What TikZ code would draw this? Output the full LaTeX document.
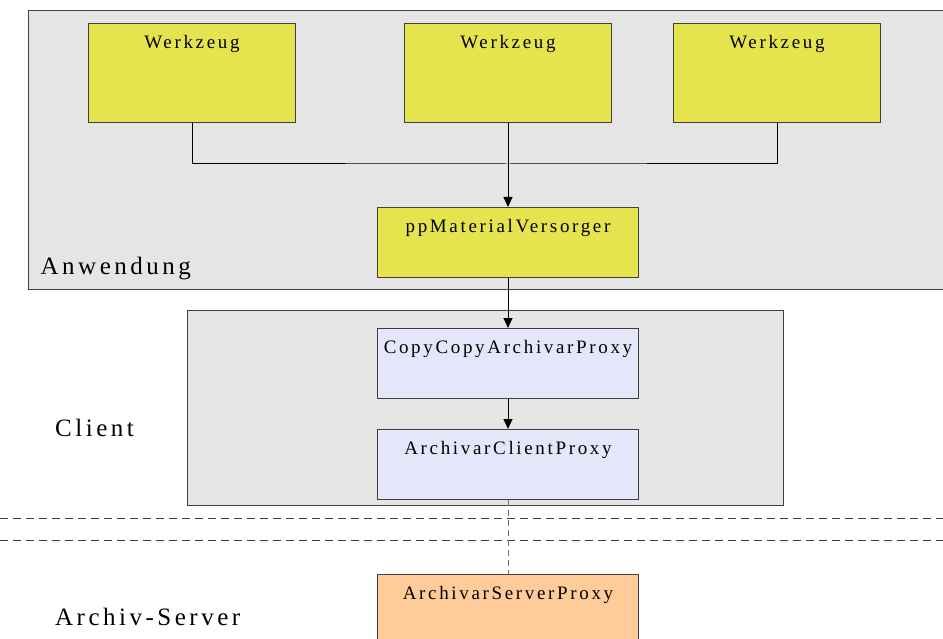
\documentclass[tikz,border=0pt]{standalone}
\usepackage{fontspec}
\setmainfont{Liberation Serif}
\newfontfamily\spacedfont{Liberation Serif}[LetterSpace=14]
\usetikzlibrary{arrows.meta}

\definecolor{layergray}{RGB}{229,229,229}
\definecolor{edgegray}{RGB}{64,64,64}
\definecolor{toolyellow}{RGB}{230,228,78}
\definecolor{proxyblue}{RGB}{230,230,250}
\definecolor{serverorange}{RGB}{255,204,153}
\definecolor{dashgray}{RGB}{60,60,60}
\definecolor{linkgray}{RGB}{110,110,110}

\tikzset{
  layer/.style={fill=layergray, draw=edgegray, line width=1pt},
  compbox/.style={draw=edgegray, line width=1pt, inner sep=0pt, anchor=north west,
    text height=25pt, font=\spacedfont\fontsize{19}{23}\selectfont},
  toolbox/.style={compbox, fill=toolyellow, minimum width=207pt, text depth=74pt},
  midbox/.style={compbox, minimum width=261pt, text depth=45pt},
  layerlabel/.style={anchor=base west, inner sep=0pt, font=\spacedfont\fontsize{25}{30}\selectfont},
  flow/.style={line width=1pt, -{Triangle[length=10pt,width=9pt]}},
  wire/.style={line width=1pt},
  boundary/.style={draw=dashgray, line width=1pt, dash pattern=on 8pt off 5pt}
}

\begin{document}
\begin{tikzpicture}[x=1pt,y=-1pt]
\useasboundingbox (0,0) rectangle (943,639);
\begin{scope}
\clip (0,0) rectangle (943,639);

% application layer (open towards the right)
\fill[layergray] (28,11) rectangle (950,290);
\draw[edgegray, line width=1pt] (950,11) -- (28,11) -- (28,290) -- (950,290);
\node[layerlabel] (anw) at (40.5,275) {Anwendung};

% client layer
\draw[layer] (187,311) rectangle (783,505);
\node[layerlabel] (cli) at (55,436) {Client};

% network boundary
\coordinate (b1l) at (0,518);  \coordinate (b1r) at (943,518);
\coordinate (b2l) at (0,540);  \coordinate (b2r) at (943,540);
\draw[boundary] (b1l) -- (b1r);
\draw[boundary] (b2l) -- (b2r);

\node[layerlabel] (srv) at (55,625) {Archiv-Server};

% tools
\node[toolbox] (w1) at (88,23)  {Werkzeug};
\node[toolbox] (w2) at (404,23) {Werkzeug};
\node[toolbox] (w3) at (673,23) {Werkzeug};

% material provider and proxies
\node[midbox, fill=toolyellow] (ppm) at (377,207) {ppMaterialVersorger};
\node[midbox, fill=proxyblue] (ccp) at (377,328) {CopyCopyArchivarProxy};
\node[midbox, fill=proxyblue] (acp) at (377,429) {ArchivarClientProxy};
\node[compbox, fill=serverorange, minimum width=261pt, text depth=75pt] (asp) at (377,574) {ArchivarServerProxy};

% connectors
\coordinate (join) at (w2.south |- 0,164);
\draw[wire] (w1.south) |- (join) -| (w3.south);
\draw[flow] (w2.south) -- (ppm.north);
\draw[flow] (ppm.south) -- (ccp.north);
\draw[flow] (ccp.south) -- (acp.north);
\draw[draw=linkgray, line width=1pt, dash pattern=on 6pt off 4pt] (acp.south) -- (asp.north);
\end{scope}
\end{tikzpicture}
\end{document}
